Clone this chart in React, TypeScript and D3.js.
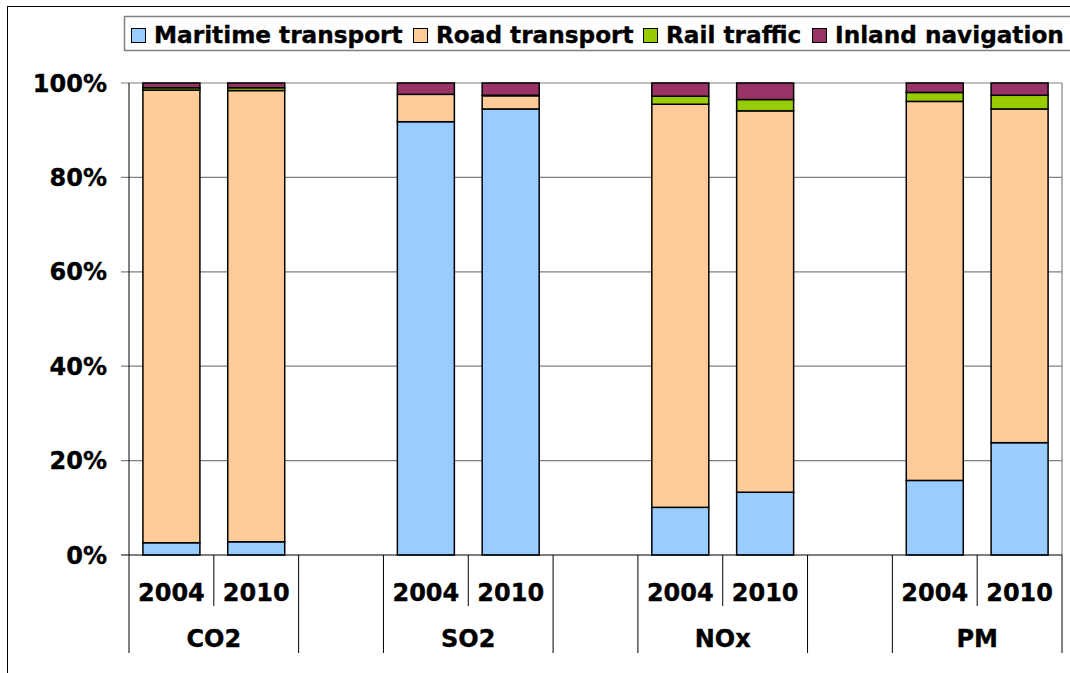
import React from "react";
import * as d3 from "d3";

const pollutants = ["CO2", "SO2", "NOx", "PM"];
const years = ["2004", "2010"];
const seriesNames = ["Maritime transport", "Road transport", "Rail traffic", "Inland navigation"];
const seriesColors = ["#99CCFF", "#FFCC99", "#99CC00", "#993366"];
// order: CO2 2004, CO2 2010, SO2 2004, SO2 2010, NOx 2004, NOx 2010, PM 2004, PM 2010
const maritime = [2.6, 2.8, 91.8, 94.5, 10.1, 13.3, 15.8, 23.8];
const road = [95.9, 95.6, 5.8, 2.8, 85.4, 80.8, 80.3, 70.7];
const rail = [0.5, 0.6, 0.0, 0.1, 1.7, 2.4, 1.9, 2.9];
const inland = [1.0, 1.0, 2.4, 2.6, 2.8, 3.5, 2.0, 2.6];
const yTicks = [0, 20, 40, 60, 80, 100];

const W = 1070;
const H = 673;
const FONT = "'DejaVu Sans', Verdana, sans-serif";

export default function App() {
  const left = 129;
  const right = 1062;
  const top = 83;
  const bottom = 555;

  const slots: { key: string; pollutant?: string; year?: string; idx?: number }[] = [];
  pollutants.forEach((p, pi) => {
    years.forEach((yr, yi) => {
      slots.push({ key: p + "-" + yr, pollutant: p, year: yr, idx: pi * 2 + yi });
    });
    if (pi < pollutants.length - 1) slots.push({ key: "gap-" + pi });
  });

  const pad = 0.328;
  const x = d3
    .scaleBand<string>()
    .domain(slots.map((s) => s.key))
    .range([left, right])
    .paddingInner(pad)
    .paddingOuter(pad / 2);
  const step = x.step();
  const y = d3.scaleLinear().domain([0, 100]).range([bottom, top]);

  const rows = slots
    .filter((s) => s.idx !== undefined)
    .map((s) => {
      const i = s.idx as number;
      return {
        key: s.key,
        "Maritime transport": maritime[i],
        "Road transport": road[i],
        "Rail traffic": rail[i],
        "Inland navigation": inland[i],
      } as any;
    });
  const stacked = d3.stack<any>().keys(seriesNames)(rows);

  const boundaries: { x: number; long: boolean }[] = [];
  for (let i = 0; i <= slots.length; i++) {
    const bx = left + i * step;
    let long = true;
    if (i > 0 && i < slots.length) {
      const a = slots[i - 1];
      const b = slots[i];
      if (a.pollutant && b.pollutant && a.pollutant === b.pollutant) long = false;
    }
    boundaries.push({ x: bx, long });
  }

  const legendX = [131, 413, 643, 812];
  const textProps = { fill: "#000", stroke: "#000", strokeWidth: 0.35 };

  return (
    <svg
      width={W}
      height={H}
      style={{ position: "absolute", left: 0, top: 0, background: "#fff" }}
      fontFamily={FONT}
      fontWeight="bold"
    >
      <rect x={7.5} y={6.5} width={1100} height={700} fill="#fff" stroke="#000" strokeWidth={1} />

      {/* legend */}
      <rect x={124.5} y={16.5} width={960} height={34} fill="#fff" stroke="#808080" strokeWidth={1.5} />
      {seriesNames.map((name, i) => (
        <g key={name}>
          <rect x={legendX[i] + 0.5} y={28.5} width={14} height={14} fill={seriesColors[i]} stroke="#000" strokeWidth={1} />
          <text x={legendX[i] + 23} y={43} fontSize={23.2} {...textProps}>
            {name}
          </text>
        </g>
      ))}

      {/* gridlines */}
      {yTicks.map((t) => (
        <g key={t}>
          {t > 0 && (
            <line x1={left - 8} x2={right} y1={y(t)} y2={y(t)} stroke="#808080" strokeWidth={1.2} />
          )}
          <text x={107} y={y(t) + 8.5} textAnchor="end" fontSize={24} {...textProps}>
            {t + "%"}
          </text>
        </g>
      ))}
      <line x1={right} x2={right} y1={top} y2={bottom} stroke="#808080" strokeWidth={1.2} />

      {/* bars */}
      {stacked.map((layer, li) => (
        <g key={layer.key} fill={seriesColors[li]}>
          {layer.map((d: any) => {
            const h = y(d[0]) - y(d[1]);
            if (h <= 0) return null;
            return (
              <rect
                key={d.data.key}
                x={x(d.data.key)}
                y={y(d[1])}
                width={x.bandwidth()}
                height={h}
                stroke="#000"
                strokeWidth={1.5}
              />
            );
          })}
        </g>
      ))}

      {/* axes */}
      <line x1={left} x2={left} y1={top} y2={bottom} stroke="#000" strokeWidth={1} />
      <line x1={left - 8} x2={right} y1={bottom} y2={bottom} stroke="#000" strokeWidth={1.2} />
      {boundaries.map((b, i) => (
        <line
          key={i}
          x1={b.x}
          x2={b.x}
          y1={bottom}
          y2={b.long ? 653 : 606}
          stroke="#000"
          strokeWidth={1}
        />
      ))}
      {slots
        .filter((s) => s.year)
        .map((s) => (
          <text
            key={s.key}
            x={(x(s.key) as number) + x.bandwidth() / 2}
            y={600.5}
            textAnchor="middle"
            fontSize={24}
            {...textProps}
          >
            {s.year}
          </text>
        ))}
      {pollutants.map((p) => {
        const x0 = (x(p + "-" + years[0]) as number) - (step - x.bandwidth()) / 2;
        const x1 = (x(p + "-" + years[years.length - 1]) as number) + x.bandwidth() + (step - x.bandwidth()) / 2;
        return (
          <text key={p} x={(x0 + x1) / 2} y={647} textAnchor="middle" fontSize={24} {...textProps}>
            {p}
          </text>
        );
      })}
    </svg>
  );
}
